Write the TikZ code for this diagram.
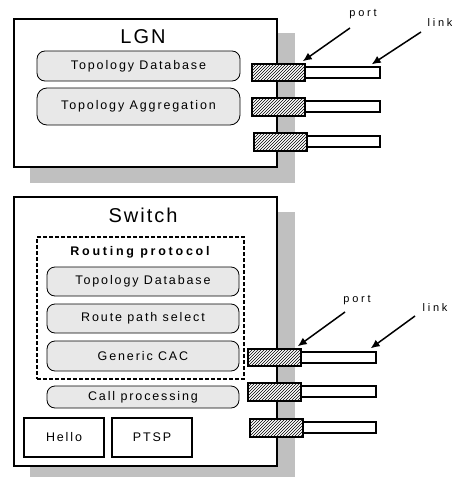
\documentclass[tikz,border=0pt]{standalone}
\usepackage{fontspec}
\setmainfont{Liberation Sans}
\newfontfamily\gul[LetterSpace=15]{Liberation Sans}
\newfontfamily\gulr[LetterSpace=22]{Liberation Sans}
\newfontfamily\gult[LetterSpace=10]{Liberation Sans}
\newfontfamily\gulw[LetterSpace=25]{Liberation Sans}
\usetikzlibrary{patterns,arrows.meta,calc}
\definecolor{shadowgray}{RGB}{192,192,192}
\definecolor{boxgray}{RGB}{232,232,232}
\tikzset{
  mainbox/.style={draw=black,line width=1.5pt,fill=white},
  rbox/.style={draw=black,line width=0.8pt,fill=boxgray,rounded corners=8pt,
    font=\gul\fontsize{12.5}{14}\selectfont,inner sep=0pt},
  sqbox/.style={draw=black,line width=1.5pt,fill=white,font=\gul\fontsize{12.5}{14}\selectfont,inner sep=0pt},
  dashbox/.style={draw=black,line width=1.5pt,dash pattern=on 4pt off 2pt,inner sep=0pt},
  title/.style={font=\gult\fontsize{20}{22}\selectfont,inner sep=0pt},
  rtitle/.style={font=\gulr\bfseries\fontsize{12.5}{14}\selectfont,inner sep=0pt},
  portbox/.style={draw=black,line width=1.5pt,fill=white,pattern=north east lines,
    minimum width=53pt,inner sep=0pt},
  linkbox/.style={draw=black,line width=1.3pt,fill=white,minimum height=11pt,inner sep=0pt},
  small/.style={font=\gulw\fontsize{11}{13}\selectfont,inner sep=0pt},
  arr/.style={draw=black,line width=1.5pt,-{Latex[length=9pt,width=8pt]}},
}
\begin{document}
\begin{tikzpicture}[x=1pt,y=-1pt]
\useasboundingbox (0,0) rectangle (451,479);
% ---------- LGN ----------
\fill[shadowgray] (30,33) rectangle (295,183);
\node[mainbox,minimum width=263pt,minimum height=148pt] (lgn) at (145.5,93) {};
\node[title] (lgnt) at (143,37) {LGN};
\node[rbox,minimum width=203pt,minimum height=30pt] (tdba) at (138.5,66) {Topology Database};
\node[rbox,minimum width=203pt,minimum height=37pt,rounded corners=10pt] (tagg) at (138.5,106.5) {Topology Aggregation};
\node[linkbox,minimum width=75pt] (la1) at (342.5,72.5) {};
\node[linkbox,minimum width=75pt] (la2) at (342.5,106.5) {};
\node[linkbox,minimum width=73pt] (la3) at (343.5,141.5) {};
\fill[white] (252,64) rectangle (305,81) (252,98) rectangle (305,116) (254,133) rectangle (307,151);
\node[portbox,minimum height=17pt] (pa1) at (278.5,72.5) {};
\node[portbox,minimum height=18pt] (pa2) at (278.5,107) {};
\node[portbox,minimum height=18pt] (pa3) at (280.5,142) {};
\node[small] (porta) at (363,14) {port};
\node[small] (linka) at (440,23) {link};
\coordinate (pas) at (350,28);
\coordinate (las) at (421,32);
\draw[arr] (pas) -- ($(pa1.north east)+(-3,-2)$);
\draw[arr] (las) -- ($(la1.north east)+(-9,-2)$);
% ---------- Switch ----------
\fill[shadowgray] (30,212) rectangle (295,477);
\node[mainbox,minimum width=263pt,minimum height=269pt] (sw) at (145.5,331.5) {};
\node[title] (swt) at (143,215) {Switch};
\node[dashbox,minimum width=207pt,minimum height=142pt] (rp) at (140.5,308) {};
\node[rtitle] (rpt) at (140,252) {Routing protocol};
\node[rbox,minimum width=192pt,minimum height=29pt] (tdbb) at (143,281.5) {Topology Database};
\node[rbox,minimum width=192pt,minimum height=29pt] (rps) at (143,318.5) {Route path select};
\node[rbox,minimum width=192pt,minimum height=30pt] (gcac) at (143,356) {Generic CAC};
\node[rbox,minimum width=192pt,minimum height=22pt] (callp) at (143,397) {Call processing};
\node[sqbox,minimum width=80pt,minimum height=39pt] (hello) at (64,437.5) {Hello};
\node[sqbox,minimum width=80pt,minimum height=39pt] (ptsp) at (152,437.5) {PTSP};
\node[linkbox,minimum width=75pt] (lb1) at (338.5,357.5) {};
\node[linkbox,minimum width=75pt] (lb2) at (338.5,391.5) {};
\node[linkbox,minimum width=73pt] (lb3) at (339.5,427.5) {};
\fill[white] (248,349) rectangle (301,366) (248,383) rectangle (301,401) (250,419) rectangle (303,437);
\node[portbox,minimum height=17pt] (pb1) at (274.5,357.5) {};
\node[portbox,minimum height=18pt] (pb2) at (274.5,392) {};
\node[portbox,minimum height=18pt] (pb3) at (276.5,428) {};
\node[small] (portb) at (357,300) {port};
\node[small] (linkb) at (435,308) {link};
\coordinate (pbs) at (345,312);
\coordinate (lbs) at (415,316);
\draw[arr] (pbs) -- ($(pb1.north east)+(-4,-2)$);
\draw[arr] (lbs) -- ($(lb1.north east)+(-6,-3)$);
\end{tikzpicture}
\end{document}
